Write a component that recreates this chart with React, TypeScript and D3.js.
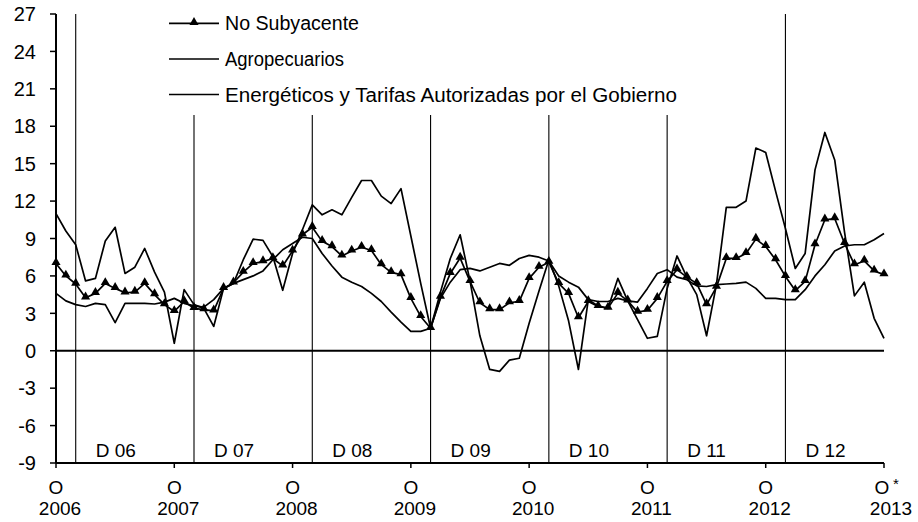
import React from "react";
import * as d3 from "d3";

// Monthly annual % changes, Oct 2006 (index 0) .. Oct 2013 (index 84)
const noSubyacente: number[] = [
  7.0, 6.0, 5.35, 4.25, 4.6, 5.4, 5.0, 4.65, 4.7, 5.4, 4.5, 3.7,
  3.15, 3.95, 3.4, 3.3, 3.2, 5.0, 5.45, 6.3, 7.0, 7.15, 7.4, 6.8,
  8.0, 9.3, 9.9, 8.77, 8.35, 7.6, 8.0, 8.3, 8.04, 6.9, 6.28, 6.1,
  4.2, 2.75, 1.8, 4.3, 6.2, 7.43, 5.56, 3.85, 3.3, 3.3, 3.85, 3.96,
  5.8, 6.7, 7.1, 5.4, 4.6, 2.65, 3.95, 3.55, 3.42, 4.62, 4.0, 3.1,
  3.25, 4.2, 5.56, 6.5, 5.9, 5.4, 3.7, 5.1, 7.4, 7.4, 7.8, 8.95,
  8.36, 7.3, 5.96, 4.83, 5.56, 8.5, 10.5, 10.6, 8.6, 6.9, 7.2, 6.4,
  6.1,
];

const agropecuarios: number[] = [
  11.0, 9.6, 8.5, 5.6, 5.8, 8.8, 9.9, 6.2, 6.7, 8.2, 6.3, 4.7,
  0.6, 4.9, 3.7, 3.4, 1.95, 5.0, 5.4, 7.3, 8.95, 8.85, 7.55, 4.85,
  7.8, 9.7, 11.7, 10.9, 11.3, 10.9, 12.3, 13.65, 13.65, 12.4, 11.8, 13.0,
  9.2, 5.4, 1.8, 4.7, 7.4, 9.3, 5.6, 1.2, -1.5, -1.65, -0.75, -0.6,
  2.2, 4.8, 7.3, 5.2, 2.4, -1.5, 4.1, 3.6, 3.4, 5.8, 4.0, 2.5,
  1.0, 1.15, 5.0, 7.6, 5.9, 4.5, 1.2, 5.3, 11.5, 11.5, 12.0, 16.25,
  15.9, 12.8, 9.8, 6.6, 7.8, 14.5, 17.5, 15.3, 9.5, 4.4, 5.5, 2.6,
  1.0,
];

const energeticos: number[] = [
  4.6, 4.0, 3.7, 3.55, 3.8, 3.7, 2.25, 3.8, 3.8, 3.8, 3.75, 3.9,
  4.2, 3.8, 3.6, 3.5, 4.1, 5.0, 5.4, 5.7, 6.0, 6.4, 7.3, 8.1,
  8.6, 9.1, 9.0, 7.8, 6.8, 5.9, 5.5, 5.15, 4.6, 3.95, 3.1, 2.3,
  1.55, 1.55, 1.8, 4.2, 5.5, 6.5, 6.6, 6.4, 6.7, 7.0, 6.85, 7.4,
  7.65, 7.5, 7.2, 6.0, 5.5, 5.1, 4.1, 3.95, 3.95, 4.2, 4.0, 3.9,
  5.0, 6.2, 6.5, 5.9, 5.7, 5.2, 5.15, 5.3, 5.35, 5.4, 5.5, 5.0,
  4.2, 4.2, 4.1, 4.1, 4.9, 6.0, 6.9, 8.0, 8.4, 8.5, 8.5, 8.9,
  9.4,
];

const yTicks: number[] = [-9, -6, -3, 0, 3, 6, 9, 12, 15, 18, 21, 24, 27];
const yearLabels: string[] = ["2006", "2007", "2008", "2009", "2010", "2011", "2012", "2013"];
const yearMonthIndex: number[] = [0, 12, 24, 36, 48, 60, 72, 84];
const decLabels: string[] = ["D 06", "D 07", "D 08", "D 09", "D 10", "D 11", "D 12"];
const decMonthIndex: number[] = [2, 14, 26, 38, 50, 62, 74];
const legendLabels: string[] = [
  "No Subyacente",
  "Agropecuarios",
  "Energéticos y Tarifas Autorizadas por el Gobierno",
];
const legendTextWidths: number[] = [134, 119, 452];

const FONT = "'Liberation Sans', Arial, Helvetica, sans-serif";

export default function App() {
  const W = 918;
  const H = 522;
  const x = d3.scaleLinear().domain([0, 84]).range([56, 884]);
  const y = d3.scaleLinear().domain([-9, 27]).range([463, 14]);

  const line = d3
    .line<number>()
    .x((_, i) => x(i))
    .y((d) => y(d));

  const tri = d3.symbol().type(d3.symbolTriangle).size(36)();

  const legendY = [23.3, 59, 94.5];
  const stroke = "#000";

  return (
    <svg
      width={W}
      height={H}
      viewBox={`0 0 ${W} ${H}`}
      style={{ position: "absolute", left: 0, top: 0, background: "#fff" }}
      fontFamily={FONT}
    >
      <rect x={0} y={0} width={W} height={H} fill="#fff" />

      {/* December vertical separators */}
      {decMonthIndex.map((m, k) => {
        const full = k === 0 || k === decMonthIndex.length - 1;
        return (
          <line
            key={"v" + k}
            x1={x(m)}
            x2={x(m)}
            y1={full ? y(27) : 115}
            y2={y(-9)}
            stroke={stroke}
            strokeWidth={1.1}
          />
        );
      })}

      {/* December labels */}
      {decLabels.map((t, k) => (
        <text
          key={"d" + k}
          x={x(decMonthIndex[k]) + 20}
          y={457}
          fontSize={19}
          fill="#000"
        >
          {t}
        </text>
      ))}

      {/* axes */}
      <line x1={x(0)} x2={x(0)} y1={y(27)} y2={y(-9)} stroke={stroke} strokeWidth={2} />
      <line x1={x(0)} x2={x(84)} y1={y(-9)} y2={y(-9)} stroke={stroke} strokeWidth={2} />
      <line x1={x(0)} x2={x(84)} y1={y(0)} y2={y(0)} stroke={stroke} strokeWidth={2} />

      {yTicks.map((t) => (
        <g key={"yt" + t}>
          <line x1={x(0) - 6} x2={x(0)} y1={y(t)} y2={y(t)} stroke={stroke} strokeWidth={1.5} />
          <text
            x={36}
            y={y(t)}
            dy="0.36em"
            textAnchor="end"
            fontSize={20}
            fill="#000"
          >
            {t}
          </text>
        </g>
      ))}

      {yearMonthIndex.map((m, k) => (
        <g key={"xt" + k}>
          <line x1={x(m)} x2={x(m)} y1={y(-9)} y2={y(-9) + 5} stroke={stroke} strokeWidth={1.5} />
          <text x={x(m) - (k === 7 ? 2 : 0)} y={493.5} textAnchor="middle" fontSize={19} fill="#000">
            O
          </text>
          {k === 7 && (
            <text x={x(m) + 12} y={489} textAnchor="middle" fontSize={15} fill="#000">
              *
            </text>
          )}
          <text x={x(m) + (k === 7 ? 7 : 4)} y={515} textAnchor="middle" fontSize={19} fill="#000">
            {yearLabels[k]}
          </text>
        </g>
      ))}

      {/* series */}
      <path d={line(energeticos) || ""} fill="none" stroke={stroke} strokeWidth={1.7} strokeLinejoin="round" />
      <path d={line(agropecuarios) || ""} fill="none" stroke={stroke} strokeWidth={1.7} strokeLinejoin="round" />
      <path d={line(noSubyacente) || ""} fill="none" stroke={stroke} strokeWidth={1.7} strokeLinejoin="round" />
      {noSubyacente.map((v, i) => (
        <path key={"m" + i} d={tri || ""} transform={`translate(${x(i)},${y(v) - 1})`} fill="#000" />
      ))}

      {/* legend */}
      {legendLabels.map((t, k) => (
        <g key={"lg" + k}>
          <line x1={169} x2={219} y1={legendY[k]} y2={legendY[k]} stroke={stroke} strokeWidth={1.7} />
          {k === 0 && <path d={tri || ""} transform={`translate(194,${legendY[k] - 1})`} fill="#000" />}
          <text
            x={225}
            y={legendY[k] + 7}
            fontSize={19.5}
            fill="#000"
            textLength={legendTextWidths[k]}
            lengthAdjust="spacingAndGlyphs"
          >
            {t}
          </text>
        </g>
      ))}
    </svg>
  );
}
